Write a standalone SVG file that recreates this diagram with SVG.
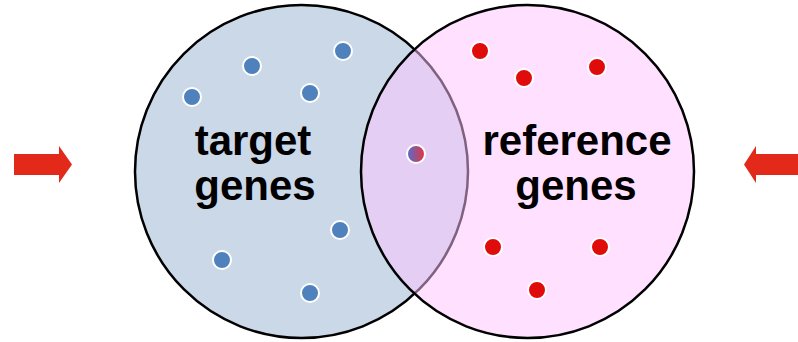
<svg xmlns="http://www.w3.org/2000/svg" width="798" height="342" viewBox="0 0 798 342">
  <style>
    .set { stroke: #000; stroke-width: 2.5; }
    .label { font-family: "Liberation Sans", Arial, sans-serif; font-weight: bold; font-size: 42px; fill: #000; text-anchor: middle; }
    .gene { stroke: #fff; stroke-width: 2; }
    .blue { fill: #4F81BD; }
    .red { fill: #E00C0C; }
    .arrow { fill: #E2291A; }
  </style>
  <defs>
    <linearGradient id="shared" x1="0" y1="0" x2="1" y2="0">
      <stop offset="0" stop-color="#4F6FD0"/>
      <stop offset="1" stop-color="#E8343C"/>
    </linearGradient>
  </defs>
  <rect width="798" height="342" fill="#fff"/>

  <g id="target-set">
    <circle class="set" cx="301.5" cy="171.5" r="166.5" fill="#CBD8E8"/>
  </g>
  <g id="reference-set">
    <circle cx="527.5" cy="171.5" r="166.5" fill="#FFC4FF" fill-opacity="0.5"/>
    <circle class="set" cx="527.5" cy="171.5" r="166.5" fill="none"/>
  </g>

  <g id="target-genes">
    <circle class="gene blue" cx="192" cy="97" r="9"/>
    <circle class="gene blue" cx="252" cy="66" r="9"/>
    <circle class="gene blue" cx="343" cy="51" r="9"/>
    <circle class="gene blue" cx="310" cy="93" r="9"/>
    <circle class="gene blue" cx="340" cy="230" r="9"/>
    <circle class="gene blue" cx="222" cy="260" r="9"/>
    <circle class="gene blue" cx="310" cy="293" r="9"/>
    <text class="label" x="253" y="155">target</text>
    <text class="label" x="255" y="200">genes</text>
  </g>

  <g id="reference-genes">
    <circle class="gene red" cx="480" cy="51" r="9"/>
    <circle class="gene red" cx="524" cy="78" r="9"/>
    <circle class="gene red" cx="597" cy="67" r="9"/>
    <circle class="gene red" cx="493" cy="247" r="9"/>
    <circle class="gene red" cx="600" cy="247" r="9"/>
    <circle class="gene red" cx="537" cy="290" r="9"/>
    <text class="label" x="577" y="155">reference</text>
    <text class="label" x="576" y="200">genes</text>
  </g>

  <g id="shared-gene">
    <circle class="gene" cx="416" cy="154" r="9" fill="url(#shared)"/>
  </g>

  <g id="connectors">
    <polygon class="arrow" points="14,154 59,154 59,146 72,164.5 59,183 59,175 14,175"/>
    <polygon class="arrow" points="798,154 756,154 756,146 744,164.5 756,183 756,175 798,175"/>
  </g>
</svg>
